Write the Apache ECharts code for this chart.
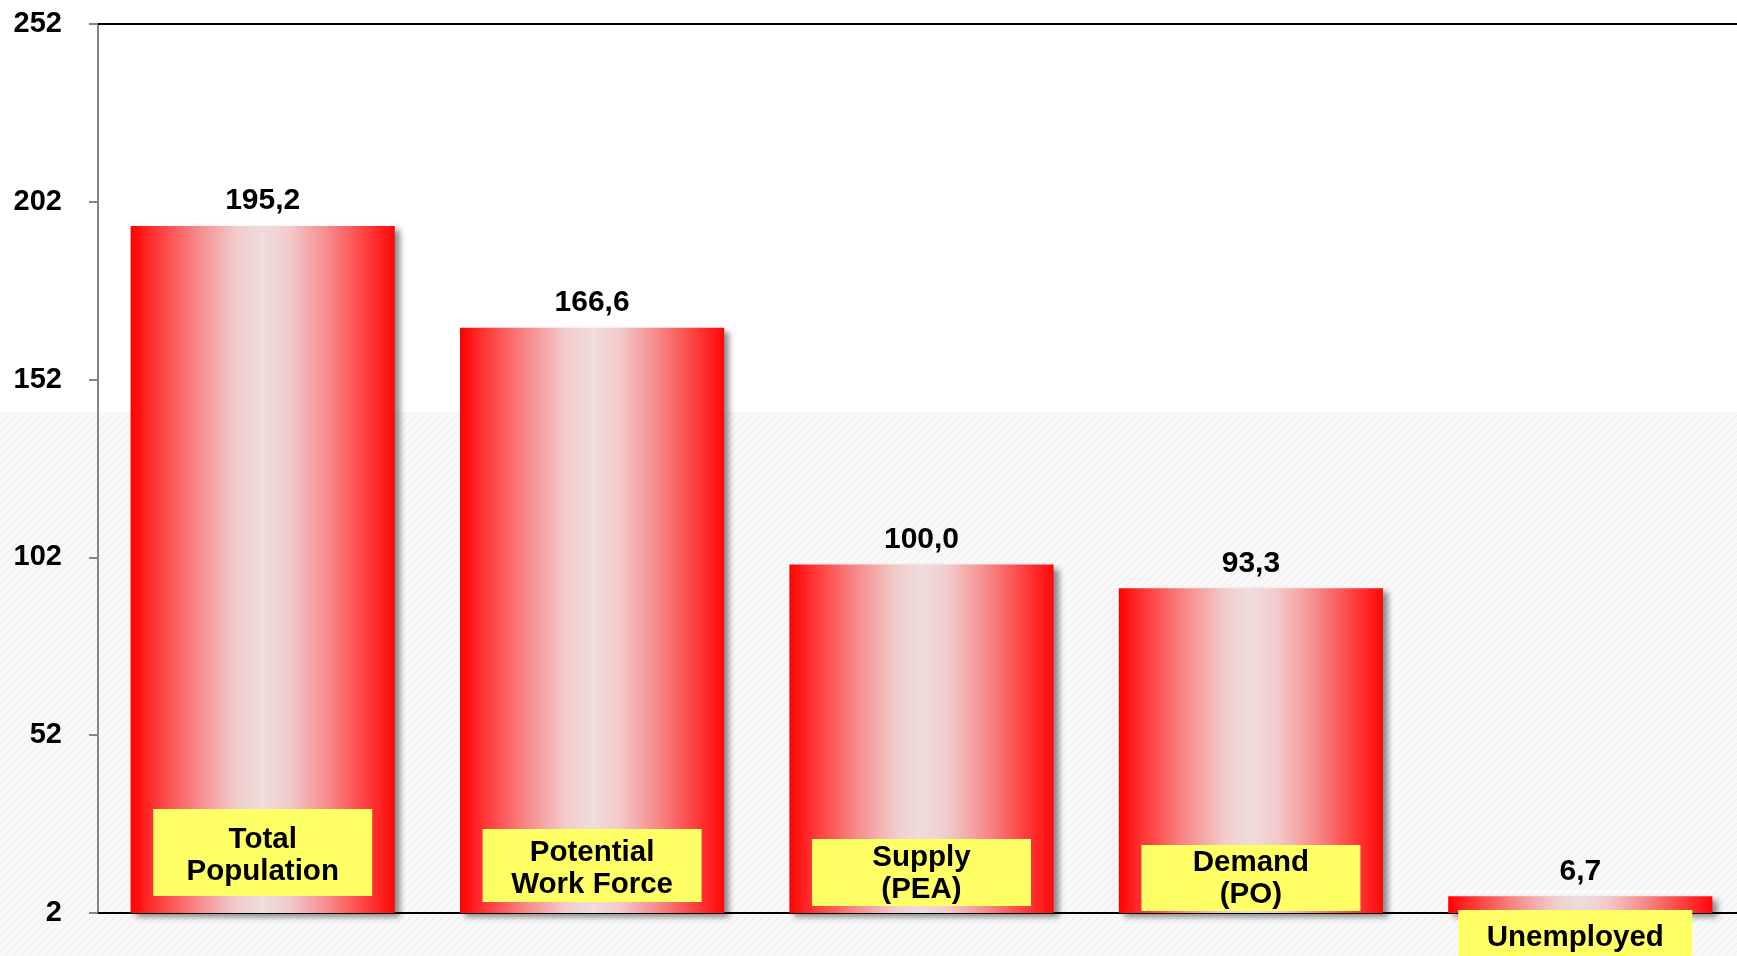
<!DOCTYPE html>
<html>
<head>
<meta charset="utf-8">
<script src="https://cdn.jsdelivr.net/npm/echarts@6/dist/echarts.min.js"></script>
<style>
html,body{margin:0;padding:0;background:#fff;overflow:hidden;width:1737px;height:956px;}
#chart{width:1745px;height:956px;}
</style>
</head>
<body>
<div id="chart"></div>
<script>
// ---- data ----
const categories = ['Total\nPopulation', 'Potential\nWork Force', 'Supply\n(PEA)', 'Demand\n(PO)', 'Unemployed'];
const values = [195.2, 166.6, 100.0, 93.3, 6.7];
const valueLabels = ['195,2', '166,6', '100,0', '93,3', '6,7'];
const yTicks = [2, 52, 102, 152, 202, 252];

// ---- label box styling (per category) ----
const boxOffsets = [[0, -17], [0, -11], [0, -7], [0, -2], [-5, 53]];
const boxPaddings = [[15, 0, 8, 0], [8, 0, 1, 0], [3, 0, 0, 0], [2, 0, 0, 0], [12, 0, 12, 0]];
const boxWidths = [219, 219, 219, 219, 234];

const FONT = "'Liberation Sans', Arial, sans-serif";

// hatch pattern
const pc = document.createElement('canvas');
pc.width = 8; pc.height = 8;
const pctx = pc.getContext('2d');
pctx.fillStyle = '#f9f9f9';
pctx.fillRect(0, 0, 8, 8);
pctx.strokeStyle = '#ececec';
pctx.lineWidth = 1;
pctx.beginPath();
pctx.moveTo(0, 8); pctx.lineTo(8, 0);
pctx.moveTo(-4, 4); pctx.lineTo(4, -4);
pctx.moveTo(4, 12); pctx.lineTo(12, 4);
pctx.stroke();

const chart = echarts.init(document.getElementById('chart'), null, {renderer: 'canvas'});

const barGradient = new echarts.graphic.LinearGradient(0, 0, 1, 0, [
  {offset: 0, color: '#ff0000'},
  {offset: 0.07, color: '#ff2a2a'},
  {offset: 0.25, color: '#f78888'},
  {offset: 0.4, color: '#f2cbcb'},
  {offset: 0.5, color: '#efdcdc'},
  {offset: 0.6, color: '#f2cbcb'},
  {offset: 0.75, color: '#f78888'},
  {offset: 0.93, color: '#ff2a2a'},
  {offset: 1, color: '#ff0808'}
]);

const mainData = values.map((v, i) => ({
  value: v,
  label: {formatter: valueLabels[i]}
}));

const boxData = values.map((v, i) => ({
  value: v,
  label: {
    formatter: categories[i],
    offset: boxOffsets[i],
    padding: boxPaddings[i],
    width: boxWidths[i]
  }
}));

chart.setOption({
  animation: false,
  backgroundColor: '#ffffff',
  graphic: [{
    type: 'rect',
    z: -10,
    silent: true,
    shape: {x: 0, y: 412, width: 1745, height: 544},
    style: {fill: {type: 'pattern', image: pc, repeat: 'repeat'}}
  }],
  grid: {left: 98, right: 0, top: 24, bottom: 43, containLabel: false},
  xAxis: [{
    type: 'category',
    data: categories,
    axisLine: {show: true, lineStyle: {color: '#000', width: 2}},
    axisTick: {show: false},
    axisLabel: {show: false},
    splitLine: {show: false}
  }, {
    type: 'category',
    position: 'top',
    data: categories,
    axisLine: {show: true, lineStyle: {color: '#000', width: 2}},
    axisTick: {show: false},
    axisLabel: {show: false}
  }],
  yAxis: {
    type: 'value',
    min: 2,
    max: 252,
    interval: 50,
    axisLine: {show: true, lineStyle: {color: '#858585', width: 2}},
    axisTick: {show: true, length: 9, lineStyle: {color: '#858585', width: 2}},
    splitLine: {show: false},
    axisLabel: {
      margin: 36,
      color: '#000',
      fontFamily: FONT,
      fontWeight: 'bold',
      fontSize: 29,
      formatter: v => String(v)
    }
  },
  series: [{
    type: 'bar',
    data: mainData,
    barWidth: '80.2%',
    itemStyle: {
      color: barGradient,
      shadowColor: 'rgba(0,0,0,0.45)',
      shadowBlur: 6,
      shadowOffsetX: 5,
      shadowOffsetY: 4
    },
    label: {
      show: true,
      position: 'top',
      distance: 10,
      color: '#000',
      fontFamily: FONT,
      fontWeight: 'bold',
      fontSize: 30
    },
    emphasis: {disabled: true}
  }, {
    type: 'bar',
    data: boxData,
    barWidth: '80.2%',
    barGap: '-100%',
    z: 5,
    itemStyle: {color: 'rgba(0,0,0,0)'},
    label: {
      show: true,
      position: 'insideBottom',
      distance: 0,
      color: '#000',
      fontFamily: FONT,
      fontWeight: 'bold',
      fontSize: 29.5,
      lineHeight: 32,
      align: 'center',
      backgroundColor: '#ffff66'
    },
    emphasis: {disabled: true}
  }]
});
</script>
</body>
</html>
